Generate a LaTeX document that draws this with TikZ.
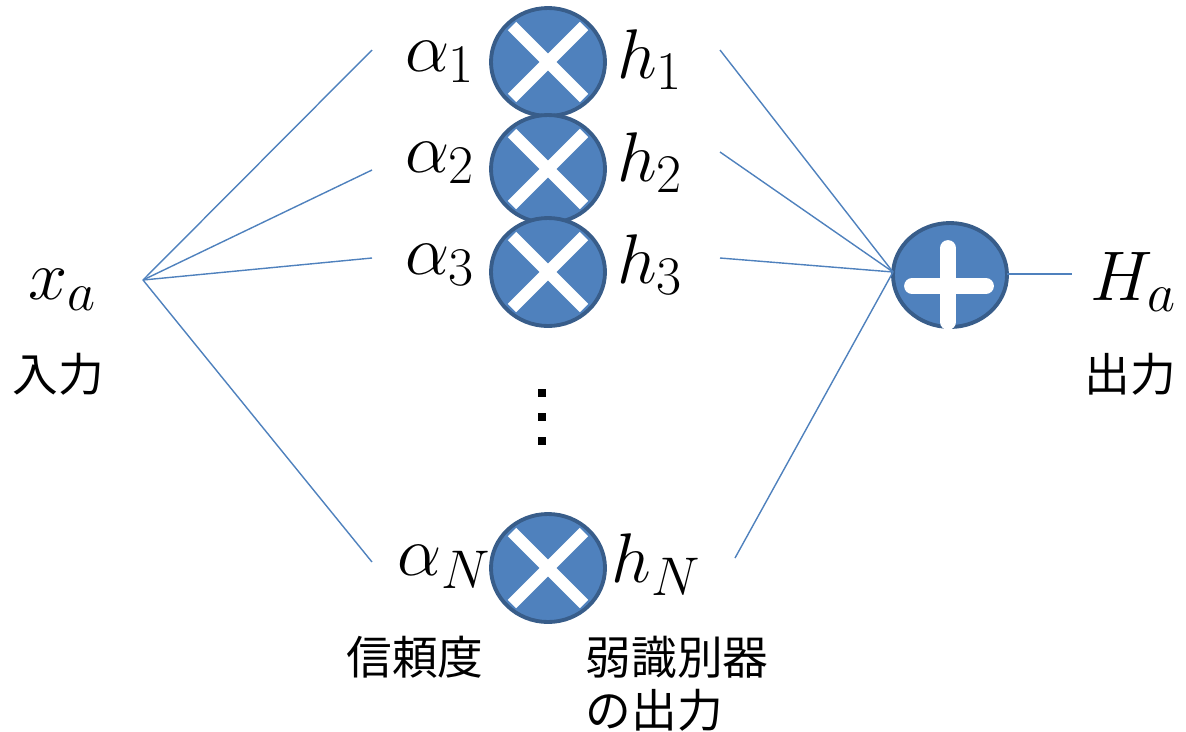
\RequirePackage{fix-cm}
\documentclass[tikz,border=0pt]{standalone}
\usepackage{fontspec}
\usetikzlibrary{calc}
\newfontfamily\cjk{Noto Sans CJK JP}
\definecolor{fillb}{HTML}{4F81BD}
\definecolor{edgeb}{HTML}{385D8A}
\DeclareMathSizes{40}{40}{31}{24}
\begin{document}
\begin{tikzpicture}[x=0.02cm,y=-0.02cm,
  wire/.style={draw=fillb,line width=0.8pt},
  mathlbl/.style={font=\fontsize{40}{44}\selectfont,inner sep=0pt},
  jplbl/.style={font=\cjk\fontsize{26}{31}\selectfont,inner sep=0pt,align=left},
  crossline/.style={white,line width=6.8pt}
]
\useasboundingbox (0,0) rectangle (1186,731);
% multiplier circles
\foreach \n/\yy in {1/62,2/169,3/272,N/568}{
  \draw[edgeb,fill=fillb,line width=2.2pt] (548,\yy) ellipse [x radius=57, y radius=54];
  \coordinate (m\n) at (548,\yy);
  \draw[crossline] ($(m\n)+(-36,-36)$) -- ($(m\n)+(36,36)$);
  \draw[crossline] ($(m\n)+(-36,36)$) -- ($(m\n)+(36,-36)$);
}
% plus circle
\coordinate (sum) at (950,275);
\draw[edgeb,fill=fillb,line width=2.2pt] (sum) ellipse [x radius=57, y radius=52];
\draw[white,line width=9pt,line cap=round] (912,286) -- (986,286);
\draw[white,line width=9pt,line cap=round] (948,248) -- (948,322);
% labels
\node[mathlbl] (xa) at (62,290) {$x_a$};
\node[jplbl] (in) at (58,374) {入力};
\node[mathlbl] (a1) at (440,62) {$\alpha_1$};
\node[mathlbl] (a2) at (440,163) {$\alpha_2$};
\node[mathlbl] (a3) at (440,265) {$\alpha_3$};
\node[mathlbl] (aN) at (444,567) {$\alpha_N$};
\node[mathlbl] (h1) at (650,60) {$h_1$};
\node[mathlbl] (h2) at (650,163) {$h_2$};
\node[mathlbl] (h3) at (650,265) {$h_3$};
\node[mathlbl] (hN) at (656,565) {$h_N$};
\node[mathlbl] (Ha) at (1133,282) {$H_a$};
\node[jplbl] (out) at (1130,374) {出力};
\node[jplbl] (conf) at (415,657) {信頼度};
\node[jplbl] (weak1) at (677,657) {弱識別器};
\node[jplbl,anchor=west] (weak2) at (weak1.west |- 0,710) {の出力};
% dots
\foreach \yy/\k in {393/1,417/2,441/3}{
  \node[fill=black,minimum size=4pt,inner sep=0pt,draw=none] (d\k) at (542,\yy) {};
}
% wires
\coordinate (src) at (143,280);
\coordinate (l1) at (372,50);
\coordinate (l2) at (372,170);
\coordinate (l3) at (372,258);
\coordinate (lN) at (372,562);
\coordinate (r1) at (720,50);
\coordinate (r2) at (720,152);
\coordinate (r3) at (720,258);
\coordinate (rN) at (735,558);
\coordinate (sin) at (893,272);
\coordinate (sout) at (1007,274);
\coordinate (hend) at (1072,274);
\foreach \t in {l1,l2,l3,lN}{\draw[wire] (src) -- (\t);}
\foreach \t in {r1,r2,r3,rN}{\draw[wire] (\t) -- (sin);}
\draw[wire] (sout) -- (hend);
\end{tikzpicture}
\end{document}
